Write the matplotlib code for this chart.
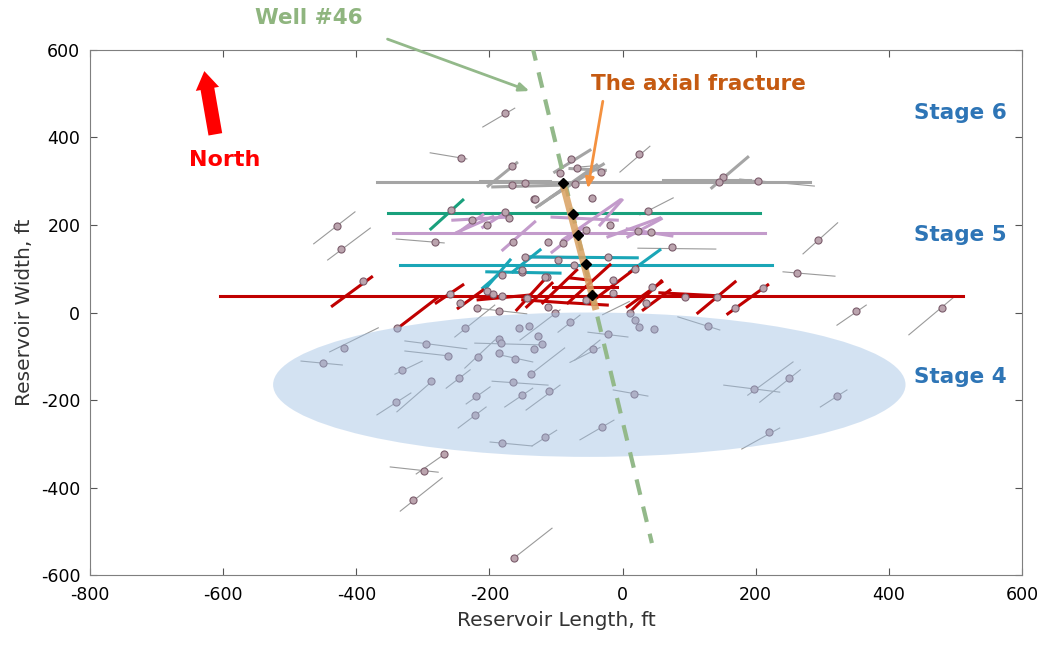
import matplotlib
matplotlib.use('Agg')
import matplotlib.pyplot as plt
from matplotlib.patches import Ellipse
import numpy as np

plt.rcParams['font.family'] = 'DejaVu Sans'
plt.rcParams['axes.unicode_minus'] = False

# --- microseismic events (dots) ---
ev_x = [-177, -243, -166, -78, -69, -94, -32, -166, -147, -72, -133, -46, 25, 38,
        151, 145, 203, 74, 294, 262, 351, 480, -22, 19, 25, 47, 128, -45, 17, 197,
        250, 322, 220, -31, -390, -418, -450, -295, -262, -331, -288, -340, -246,
        -217, -186, -183, -186, -162, -133, -121, -127, -156, -141, -165, -138,
        -220, -151, -111, -222, -79, -102, -181, -117, -268, -298, -315, -163,
        -429, -423, -282, -339, -237, -219, -186, -244, -259, -204, -195, -181,
        -181, -151, -114,
        -144, -112, -117, -55, -14, -14, 11, 44, 35, 94, 142, 211, 169,
        -147, -97, -73, -22, -151, 19,
        -204, -165, -112, -90, -55, -19, 23, 43, -177, -171, -132, -226, -258]
ev_y = [456, 353, 334, 351, 330, 318, 321, 291, 296, 294, 259, 262, 362, 232,
        310, 298, 301, 150, 166, 90, 3, 10, -49, -17, -33, -38, -31, -83, -186, -175,
        -150, -191, -273, -262, 72, -81, -115, -72, -99, -131, -157, -205, -150,
        -102, -61, -70, -93, -106, -83, -72, -54, -35, -31, -159, -141,
        -191, -189, -179, -234, -22, -1, -298, -285, -323, -362, -429, -561,
        198, 145, 161, -35, -35, 10, 3, 22, 42, 49, 42, 38,
        86, 93, 81,
        33, 13, 81, 29, 74, 45, -1, 58, 22, 35, 35, 56, 10,
        127, 120, 109, 127, 97, 99,
        200, 161, 161, 159, 189, 200, 186, 184, 230, 216, 259, 211, 234]

# thin gray lines through the events (x1, y1, x2, y2)
ev_lines = [
    (-210, 424, -162, 467), (-289, 365, -234, 351), (-69, 332, -30, 337),
    (-4, 321, 41, 380), (26, 223, 76, 262), (176, 305, 288, 289),
    (23, 147, 140, 145), (271, 134, 323, 205), (241, 93, 319, 83),
    (322, -29, 366, 17), (430, -51, 496, 33), (-52, -45, 8, -56),
    (83, -10, 146, -40), (-72, -109, -34, -63), (-14, -177, 38, -191),
    (152, -166, 236, -182), (188, -189, 256, -113), (206, -205, 267, -131),
    (297, -216, 337, -177), (179, -312, 236, -264), (-64, -291, -13, -246),
    (-440, -90, -367, -35), (-483, -111, -421, -120), (-327, -65, -234, -83),
    (-327, -88, -262, -99), (-342, -141, -301, -111), (-339, -227, -286, -157),
    (-369, -234, -318, -184), (-265, -173, -229, -131), (-237, -127, -192, -63),
    (-222, -70, -124, -74), (-184, -97, -135, -113), (-154, -63, -94, 6),
    (-196, -157, -112, -166), (-138, -141, -87, -81), (-235, -209, -199, -170),
    (-177, -216, -135, -173), (-145, -223, -94, -166), (-247, -264, -205, -216),
    (-97, -45, -64, -6), (-199, -296, -136, -305), (-136, -305, -99, -269),
    (-310, -369, -265, -321), (-349, -353, -277, -365), (-334, -454, -271, -378),
    (-163, -561, -106, -493), (-464, 157, -402, 230), (-443, 120, -379, 193),
    (-340, 168, -268, 159), (-252, -56, -192, 17), (-219, 10, -144, -3),
    (-79, -114, -34, -80), (-30, -5, 10, 25),
]

# --- hydraulic fractures by stage: long main trace (y, x_start, x_end) ---
stage_colors = ['#a5a5a5', '#19a07c', '#c39bcb', '#1aa6b7', '#c00000']
main_y = [298, 227, 182, 109, 38]
main_x0 = [-369, -352, -345, -334, -605]
main_x1 = [282, 206, 214, 225, 511]

# short fracture segments per stage (x1, y1, x2, y2)
frac_segs = [
    [(-202, 289, -159, 342), (-214, 301, -109, 301), (-195, 287, -94, 291),
     (-129, 241, -76, 296), (-124, 246, -39, 337), (-109, 262, -29, 339),
     (134, 285, 188, 355), (61, 303, 191, 303), (-102, 321, -49, 371),
     (-79, 329, -26, 325)],
    [(-288, 191, -240, 257)],
    [(-180, 143, -132, 207), (-210, 195, -177, 227), (-106, 138, -60, 193),
     (-90, 166, -4, 257), (-106, 218, -8, 211), (-139, 127, -64, 125),
     (-22, 173, 56, 216), (7, 191, 74, 175), (8, 173, 58, 214),
     (-249, 183, -195, 219), (-255, 211, -174, 218), (-247, 183, -210, 223),
     (-34, 200, -1, 257)],
    [(-204, 58, -169, 120), (-204, 93, -94, 90), (-139, 127, 22, 125),
     (11, 93, 56, 143), (-165, 93, -124, 143), (-210, 56, -184, 90)],
    [(-436, 15, -377, 81), (-337, -35, -277, 35), (-280, 22, -240, 63),
     (-247, 10, -210, 51), (-159, 6, -114, 81), (-144, 13, -106, 67),
     (-120, 22, -69, 97), (-82, 22, -19, 109), (-49, 22, 22, 104),
     (7, 13, 59, 70), (31, 6, 71, 51), (14, 6, 58, 72),
     (113, -1, 169, 70), (158, -3, 218, 63), (-79, 79, -49, 74),
     (-105, 58, -8, 58), (-79, 22, -23, 17), (-150, 29, -84, 22),
     (56, 45, 146, 38), (-217, 29, -139, 40)],
]

# axial fracture (diamonds where it crosses each stage)
axial_x = [-90, -75, -67, -55, -46]
axial_y = [296, 225, 177, 111, 40]

# well #46 trajectory
well_x = [-136, 44]
well_y = [611, -527]

fig = plt.figure(figsize=(10.49, 6.45), dpi=100)
ax = fig.add_axes([0.0858, 0.1085, 0.8885, 0.814])

# event tick lines + dots
for x1, y1, x2, y2 in ev_lines:
    ax.plot([x1, x2], [y1, y2], color='#9a9a9a', lw=0.8, zorder=2)

for i, segs in enumerate(frac_segs):
    ax.plot([main_x0[i], main_x1[i]], [main_y[i], main_y[i]],
            color=stage_colors[i], lw=2.2, zorder=3)
    for x1, y1, x2, y2 in segs:
        ax.plot([x1, x2], [y1, y2], color=stage_colors[i], lw=2.2, zorder=3)

ax.scatter(ev_x, ev_y, s=26, facecolor='#bba4ae', edgecolor='#7b5d6c',
           linewidths=0.8, zorder=4)

# stage 4 stimulated region
ax.add_patch(Ellipse((-50, -165), 950, 330, facecolor='#9fc0e4', edgecolor='none',
                     alpha=0.45, zorder=5))

# well and axial fracture
ax.plot(well_x, well_y, color='#93b98a', lw=3, linestyle=(0, (3.8, 2.9)), zorder=6)
ax.plot([-90, -40], [296, 6], color='#d9a060', lw=5, alpha=0.85,
        solid_capstyle='butt', zorder=7)
ax.plot(axial_x, axial_y, 'D', color='black', ms=5, zorder=8)

# annotations
ax.annotate('', xy=(-136, 504), xytext=(-357, 627), annotation_clip=False,
            arrowprops=dict(arrowstyle='-|>,head_width=0.25,head_length=0.6',
                            color='#93b98a', lw=2))
ax.text(-472, 673, 'Well #46', color='#8fb57f', fontsize=15.5, fontweight='bold',
        ha='center', va='center', clip_on=False)

ax.annotate('', xy=(-53, 277), xytext=(-29, 489),
            arrowprops=dict(arrowstyle='-|>,head_width=0.25,head_length=0.6',
                            color='#f4913f', lw=2))
ax.text(114, 522, 'The axial fracture', color='#c55a11', fontsize=15.5,
        fontweight='bold', ha='center', va='center')

ax.annotate('', xy=(-629, 558), xytext=(-611, 401),
            arrowprops=dict(arrowstyle='simple,head_width=0.85,head_length=0.65,tail_width=0.5',
                            color='#ff0000', mutation_scale=20, lw=0))
ax.text(-598, 348, 'North', color='#ff0000', fontsize=16, fontweight='bold',
        ha='center', va='center')

for label, yy in zip(['Stage 6', 'Stage 5', 'Stage 4'], [456, 177, -148]):
    ax.text(507, yy, label, color='#2e75b6', fontsize=15.5,
            fontweight='bold', ha='center', va='center')

ax.set_xlim(-800, 600)
ax.set_ylim(-600, 600)
ax.set_xticks(np.arange(-800, 601, 200))
ax.set_yticks(np.arange(-600, 601, 200))
ax.tick_params(direction='in', top=True, right=True, labelsize=12.5,
               color='#555555', length=5)
ax.tick_params(axis='x', pad=8)
ax.tick_params(axis='y', pad=7)
for sp in ax.spines.values():
    sp.set_color('#7f7f7f')
ax.set_xlabel('Reservoir Length, ft', fontsize=14.5, color='#333333', labelpad=5)
ax.set_ylabel('Reservoir Width, ft', fontsize=14.5, color='#333333', labelpad=5)

fig.savefig('out.png', dpi=100)
